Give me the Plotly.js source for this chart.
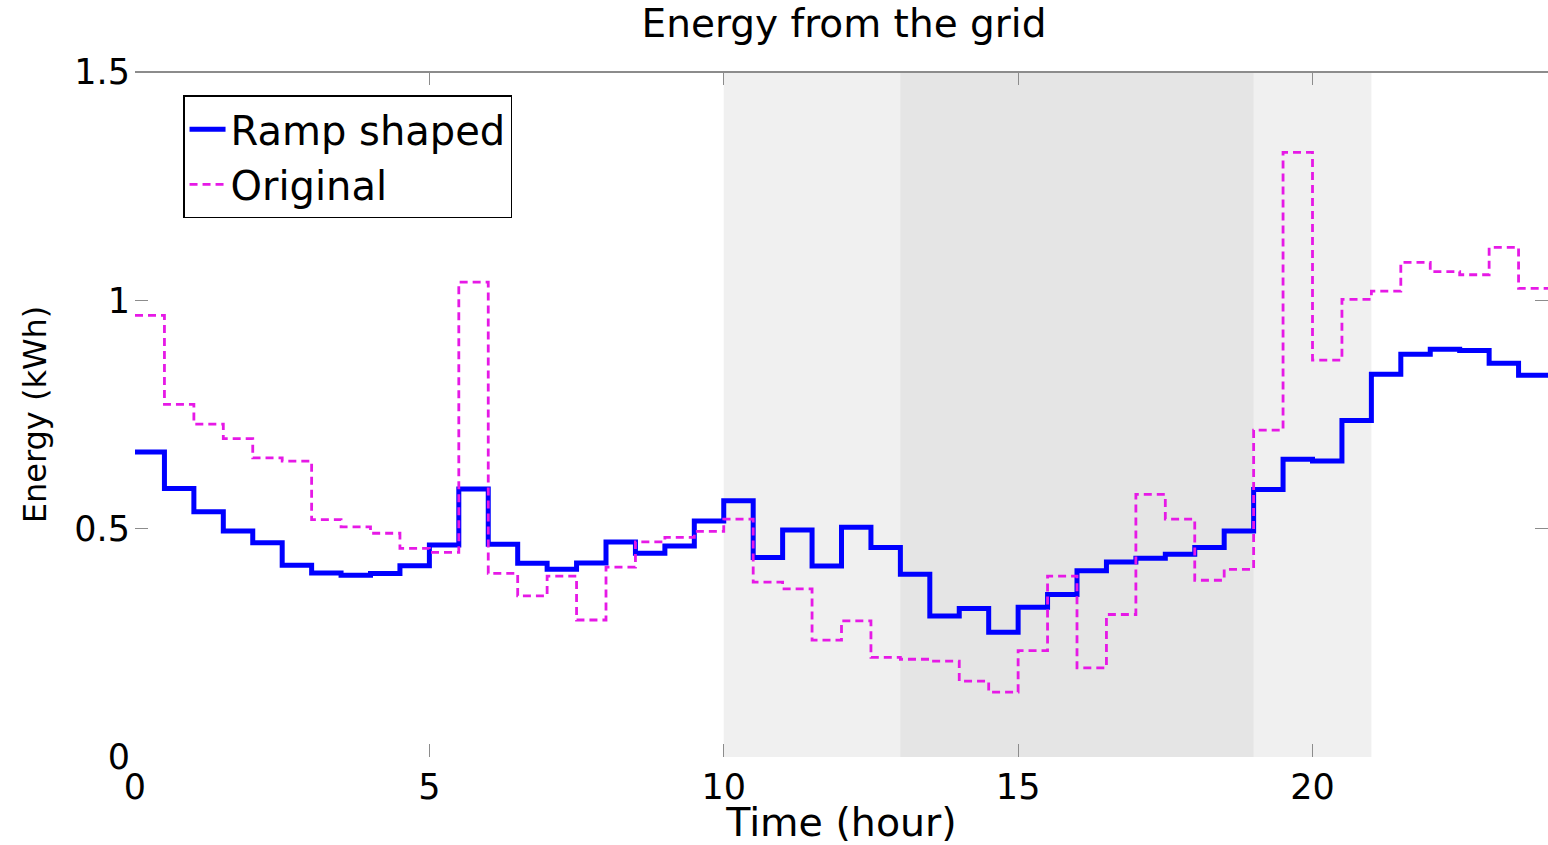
<!DOCTYPE html>
<html>
<head>
<meta charset="utf-8">
<script src="https://cdn.plot.ly/plotly-3.0.1.min.js"></script>
<style>
  html, body { margin: 0; padding: 0; background: #ffffff; }
  #chart { width: 1548px; height: 845px; }
</style>
</head>
<body>
<div id="chart"></div>
<script>
// Half-hour step boundaries (hours); last point closes the final step at 24 h
const hours = [0, 0.5, 1, 1.5, 2, 2.5, 3, 3.5, 4, 4.5, 5, 5.5, 6, 6.5, 7, 7.5,
  8, 8.5, 9, 9.5, 10, 10.5, 11, 11.5, 12, 12.5, 13, 13.5, 14, 14.5, 15, 15.5,
  16, 16.5, 17, 17.5, 18, 18.5, 19, 19.5, 20, 20.5, 21, 21.5, 22, 22.5, 23, 23.5, 24];

// Energy from the grid (kWh), ramp shaped profile
const rampShaped = [0.668, 0.588, 0.537, 0.495, 0.469, 0.420, 0.403, 0.398, 0.402, 0.419,
  0.464, 0.587, 0.466, 0.424, 0.411, 0.425, 0.471, 0.446, 0.462, 0.517,
  0.561, 0.437, 0.497, 0.418, 0.503, 0.459, 0.400, 0.309, 0.325, 0.273,
  0.328, 0.356, 0.408, 0.427, 0.435, 0.444, 0.459, 0.495, 0.586, 0.652,
  0.648, 0.737, 0.838, 0.882, 0.893, 0.890, 0.862, 0.836, 0.836];

// Energy from the grid (kWh), original profile
const original = [0.967, 0.772, 0.729, 0.697, 0.655, 0.648, 0.520, 0.504, 0.490, 0.457,
  0.448, 1.040, 0.402, 0.353, 0.396, 0.300, 0.416, 0.471, 0.481, 0.494,
  0.521, 0.383, 0.368, 0.256, 0.298, 0.218, 0.214, 0.210, 0.166, 0.142,
  0.233, 0.396, 0.195, 0.312, 0.575, 0.521, 0.387, 0.411, 0.716, 1.324,
  0.869, 1.002, 1.020, 1.083, 1.063, 1.056, 1.116, 1.026, 1.026];

// Shaded periods (hours)
const shoulderPeriod = [10, 21];
const peakPeriod = [13, 19];

const xTickVals = [0, 5, 10, 15, 20];
const xTickText = ['0', '5', '10', '15', '20'];
const yTickVals = [0, 0.5, 1, 1.5];
const yTickText = ['0', '0.5', '1', '1.5'];

const FONT = 'DejaVu Sans, Liberation Sans, Arial, sans-serif';

const traces = [
  {
    x: hours, y: rampShaped, type: 'scatter', mode: 'lines', name: 'Ramp shaped',
    line: { shape: 'hv', color: '#0000ff', width: 5 }
  },
  {
    x: hours, y: original, type: 'scatter', mode: 'lines', name: 'Original',
    line: { shape: 'hv', color: '#e619e6', width: 2.8, dash: '8px,5px' }
  }
];

const layout = {
  width: 1548, height: 845,
  margin: { l: 135, r: 0, t: 72, b: 88, pad: 0 },
  paper_bgcolor: '#ffffff', plot_bgcolor: '#ffffff',
  font: { family: FONT, color: '#000000', size: 35 },
  title: {
    text: 'Energy from the grid',
    font: { family: FONT, size: 39, color: '#000000' },
    x: 0.5452, xanchor: 'center', xref: 'container',
    y: 0.972, yanchor: 'middle', yref: 'container'
  },
  showlegend: true,
  legend: {
    x: 0.034, xanchor: 'left', y: 0.966, yanchor: 'top',
    bgcolor: '#ffffff', bordercolor: '#000000', borderwidth: 1.5,
    font: { family: FONT, size: 40, color: '#000000' },
    itemwidth: 36,
    tracegroupgap: 0
  },
  xaxis: {
    range: [0, 24], tickvals: xTickVals, ticktext: xTickText,
    ticks: 'inside', ticklen: 13, tickwidth: 1, tickcolor: '#8c8c8c',
    mirror: 'ticks', showline: false, showgrid: false, zeroline: false,
    tickfont: { family: FONT, size: 35, color: '#000000' },
    ticklabelstandoff: 6,
    title: { text: 'Time (hour)', font: { family: FONT, size: 39.5, color: '#000000' }, standoff: 0 }
  },
  yaxis: {
    range: [0, 1.5], tickvals: yTickVals, ticktext: yTickText,
    ticks: 'inside', ticklen: 13, tickwidth: 1, tickcolor: '#8c8c8c',
    mirror: 'ticks', showline: false, showgrid: false, zeroline: false,
    tickfont: { family: FONT, size: 35, color: '#000000' },
    ticklabelstandoff: 4,
    title: { text: 'Energy (kWh)', font: { family: FONT, size: 32, color: '#000000' }, standoff: 18 }
  },
  shapes: [
    { type: 'rect', xref: 'x', yref: 'y', x0: shoulderPeriod[0], x1: shoulderPeriod[1], y0: 0, y1: 1.5,
      fillcolor: '#f0f0f0', line: { width: 0 }, layer: 'below' },
    { type: 'rect', xref: 'x', yref: 'y', x0: peakPeriod[0], x1: peakPeriod[1], y0: 0, y1: 1.5,
      fillcolor: '#e5e5e5', line: { width: 0 }, layer: 'below' },
    { type: 'line', xref: 'paper', yref: 'paper', x0: 0, x1: 1, y0: 1, y1: 1,
      line: { color: '#8c8c8c', width: 2 } }
  ]
};

Plotly.newPlot('chart', traces, layout, { displayModeBar: false, staticPlot: true });
</script>
</body>
</html>
